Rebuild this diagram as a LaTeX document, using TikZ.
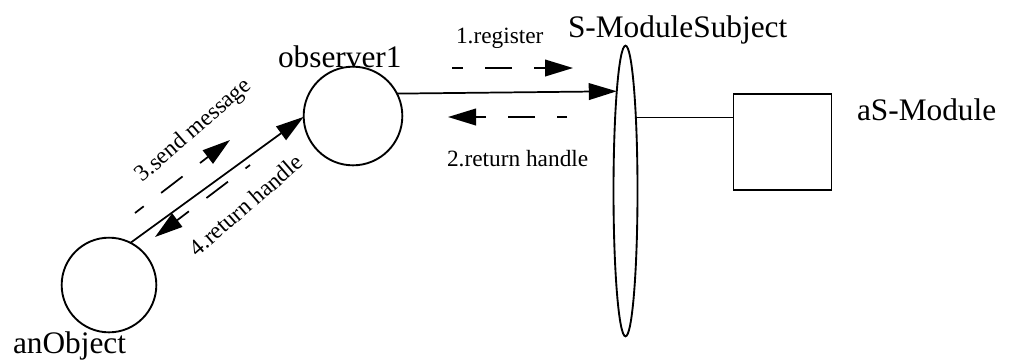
\documentclass[tikz,border=0pt]{standalone}
\usepackage{fontspec}
\setmainfont{Liberation Serif}
\usetikzlibrary{arrows.meta,shapes.geometric}
\begin{document}
\begin{tikzpicture}[x=0.75pt,y=-0.75pt,
  every node/.style={inner sep=0pt,outer sep=0pt},
  obj/.style={circle,draw,line width=1.4pt},
  big/.style={font=\fontsize{23.5}{28}\selectfont},
  small/.style={font=\fontsize{17.5}{21}\selectfont},
  conn/.style={line width=1.3pt},
  tip/.style={-{Triangle[length=21pt,width=12.5pt]}},
  dsh/.style={dash pattern=on 20.25pt off 16.5pt}]
\useasboundingbox (0,0) rectangle (1009,362);

% objects
\node[obj,minimum size=71pt] (ao) at (109,285) {};
\node[obj,minimum size=74pt] (obs) at (353,116) {};
\node[ellipse,draw,line width=1.4pt,minimum width=18pt,minimum height=218pt] (ell) at (625.5,191) {};
\node[draw,line width=1.4pt,minimum width=73.5pt,minimum height=72.5pt] (mod) at (782.5,142) {};

% labels
\node[big,anchor=base west] (lao) at (13,353) {anObject};
\node[big,anchor=base west] (lobs) at (278,67) {observer1};
\node[big,anchor=base west] (lsm) at (568,37) {S-ModuleSubject};
\node[big,anchor=base west] (las) at (857,120) {aS-Module};
\node[small,anchor=base west] (l1) at (456,43) {1.register};
\node[small,anchor=base west] (l2) at (447,166) {2.return handle};
\node[small,rotate=41] (l3) at (194,131) {3.send message};
\node[small,rotate=41] (l4) at (246,205) {4.return handle};

% free ends of message arrows
\coordinate (a1s) at (452,68);  \coordinate (a1e) at (573,68);
\coordinate (a2s) at (567,117); \coordinate (a2e) at (448,117);
\coordinate (a3s) at (135,213); \coordinate (a3e) at (230,140);
\coordinate (a4s) at (250,165); \coordinate (a4e) at (155,237);

% connectors
\draw[conn,tip] (obs.27) -- (ell.95.5);
\draw[conn] (ell.82) -- (ell.82 -| mod.west);
\draw[conn,tip] (ao.63) -- (obs.181);

% message arrows
\draw[conn,tip,dsh,dash phase=12pt] (a1s) -- (a1e);
\draw[conn,tip,dsh,dash phase=12.75pt] (a2s) -- (a2e);
\draw[conn,tip,dsh,dash phase=12pt] (a3s) -- (a3e);
\draw[conn,tip,dsh,dash phase=16pt] (a4s) -- (a4e);
\end{tikzpicture}
\end{document}
